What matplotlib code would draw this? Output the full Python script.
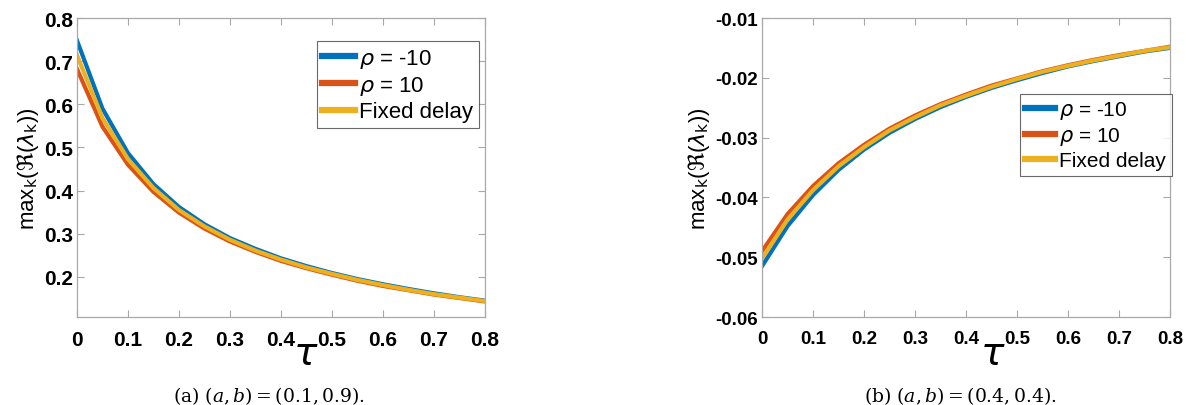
import numpy as np
import matplotlib
matplotlib.use('Agg')
import matplotlib.pyplot as plt

plt.rcParams['font.family'] = ['Liberation Sans', 'DejaVu Sans']
plt.rcParams['mathtext.fontset'] = 'dejavusans'

tau = np.arange(17) * 0.05

# panel (a): (a,b) = (0.1, 0.9)
a_neg = [0.748, 0.590, 0.487, 0.415, 0.362, 0.322, 0.290, 0.265, 0.243,
         0.225, 0.209, 0.195, 0.183, 0.172, 0.162, 0.153, 0.145]
a_pos = [0.682, 0.548, 0.460, 0.397, 0.349, 0.312, 0.282, 0.258, 0.237,
         0.220, 0.205, 0.191, 0.179, 0.169, 0.159, 0.151, 0.143]
a_fix = [0.714, 0.568, 0.473, 0.406, 0.355, 0.317, 0.286, 0.261, 0.240,
         0.222, 0.207, 0.193, 0.181, 0.170, 0.160, 0.152, 0.144]

# panel (b): (a,b) = (0.4, 0.4)
b_neg = [-0.0515, -0.0448, -0.0396, -0.0354, -0.0320, -0.0292, -0.0269, -0.0249, -0.0232,
         -0.0217, -0.0204, -0.0192, -0.0181, -0.0172, -0.0164, -0.0156, -0.0150]
b_pos = [-0.0490, -0.0428, -0.0381, -0.0343, -0.0312, -0.0285, -0.0263, -0.0244, -0.0228,
         -0.0213, -0.0201, -0.0189, -0.0179, -0.0170, -0.0162, -0.0155, -0.0148]
b_fix = [-0.0502, -0.0437, -0.0388, -0.0348, -0.0316, -0.0288, -0.0266, -0.0246, -0.0230,
         -0.0215, -0.0202, -0.0190, -0.0180, -0.0171, -0.0163, -0.0155, -0.0149]

labels = [r'$\rho$ = -10', r'$\rho$ = 10', 'Fixed delay']
colors = ['#0072BD', '#D95319', '#EDB120']

fig = plt.figure(figsize=(11.86, 4.06), dpi=100)
ax1 = fig.add_axes([0.0649, 0.2167, 0.344, 0.7365])
ax2 = fig.add_axes([0.6425, 0.2167, 0.344, 0.7365])

def style(ax, data, ylim, yticks, leg_anchor, tsize, lsize):
    for y, lab, c in zip(data, labels, colors):
        ax.plot(tau, y, color=c, lw=3, label=lab)
    ax.set_xlim(0, 0.8)
    ax.set_ylim(*ylim)
    ax.set_xticks(np.arange(0, 0.81, 0.1))
    ax.set_xticklabels(['0'] + ['%.1f' % v for v in np.arange(0.1, 0.81, 0.1)])
    ax.set_yticks(yticks)
    ax.set_yticklabels([('%g' % v) for v in yticks])
    for s in ax.spines.values():
        s.set_color('#a8a8a8')
        s.set_linewidth(0.9)
    ax.tick_params(direction='in', top=True, right=True, color='#a8a8a8',
                   length=5, labelsize=tsize)
    ax.tick_params(axis='y', pad=3)
    ax.tick_params(axis='x', pad=9)
    for t in ax.get_xticklabels() + ax.get_yticklabels():
        t.set_fontweight('bold')
    ax.set_ylabel(r'max$_{\mathrm{k}}$($\Re$($\lambda_{\mathrm{k}}$))', fontsize=16, labelpad=2)
    leg = ax.legend(loc='upper left', bbox_to_anchor=leg_anchor, fontsize=lsize,
                    fancybox=False, edgecolor='#444444', handlelength=1.45,
                    handletextpad=0.2, borderpad=0.25, labelspacing=0.2,
                    borderaxespad=0)
    leg.get_frame().set_linewidth(0.8)
    for h in leg.get_lines():
        h.set_linewidth(4.5)

style(ax1, [a_neg, a_pos, a_fix], (0.107, 0.8), [0.2, 0.3, 0.4, 0.5, 0.6, 0.7, 0.8],
      (0.588, 0.923), 15, 16)
style(ax2, [b_neg, b_pos, b_fix], (-0.06, -0.01), [-0.06, -0.05, -0.04, -0.03, -0.02, -0.01],
      (0.632, 0.746), 13.5, 15)

fig.text(306 / 1186, 1 - 355 / 406, r'$\tau$', fontsize=28, ha='center', va='center')
fig.text(993 / 1186, 1 - 355 / 406, r'$\tau$', fontsize=28, ha='center', va='center')

cap = dict(fontsize=13.5, ha='center', va='center', family='DejaVu Serif', math_fontfamily='dejavuserif')
fig.text(269 / 1186, 1 - 396 / 406, r'(a) $(a, b) = (0.1, 0.9)$.', **cap)
fig.text(960 / 1186, 1 - 396 / 406, r'(b) $(a, b) = (0.4, 0.4)$.', **cap)

fig.savefig('out.png', dpi=100)
